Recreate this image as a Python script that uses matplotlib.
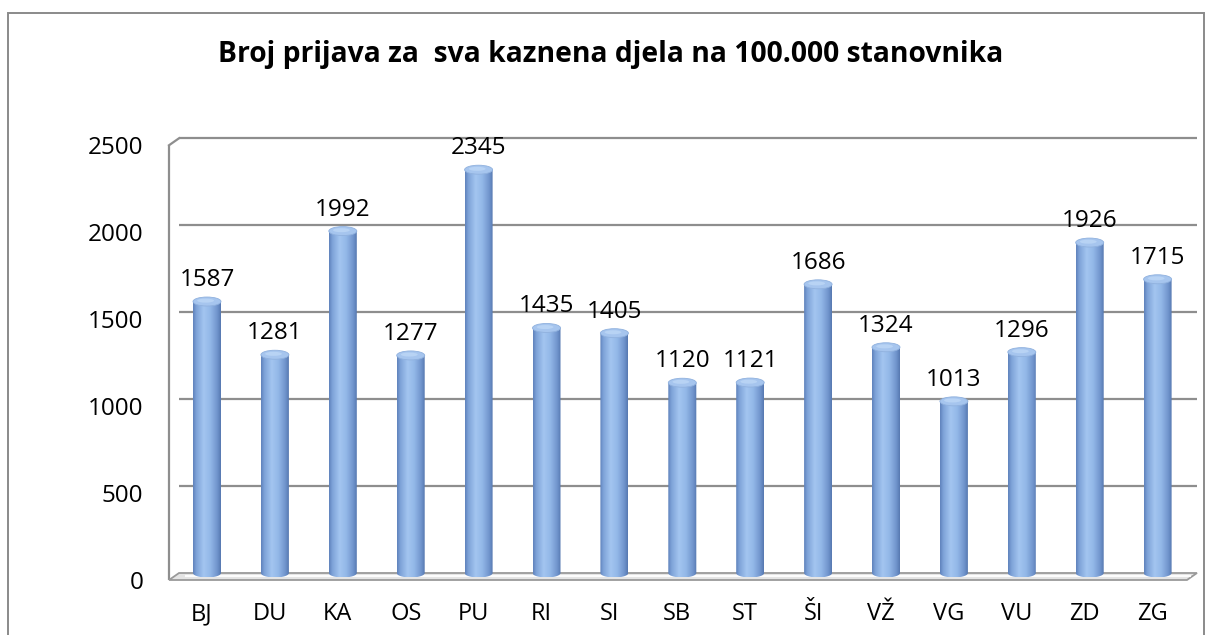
import numpy as np
import matplotlib
matplotlib.use("Agg")
import matplotlib.pyplot as plt
from matplotlib.patches import Ellipse, Polygon, PathPatch, Rectangle
from matplotlib.path import Path
from matplotlib.colors import LinearSegmentedColormap
from matplotlib.transforms import ScaledTranslation

plt.rcParams['font.family'] = ['Open Sans', 'DejaVu Sans']

# ---- data ----
categories = ["BJ", "DU", "KA", "OS", "PU", "RI", "SI", "SB", "ST", "ŠI", "VŽ", "VG", "VU", "ZD", "ZG"]
values = [1587, 1281, 1992, 1277, 2345, 1435, 1405, 1120, 1121, 1686, 1324, 1013, 1296, 1926, 1715]
yticks = [0, 500, 1000, 1500, 2000, 2500]
title = "Broj prijava za  sva kaznena djela na 100.000 stanovnika"

W, H, DPI = 12.06, 6.35, 100
fig = plt.figure(figsize=(W, H), dpi=DPI)
fig.patch.set_facecolor("white")

# axes geometry (pixels)
left_px, right_px, top_px, bot_px = 160, 1206, 100, 595
ax = fig.add_axes([left_px / 1206, (635 - bot_px) / 635,
                   (right_px - left_px) / 1206, (bot_px - top_px) / 635])
xpx0, xstep = 207.0, 67.9        # pixel of first category, spacing
ypx0, yscale = 573.0, 0.1739     # pixel of zero, px per unit
xlim = ((left_px - xpx0) / xstep, (right_px - xpx0) / xstep)
ylim = (-(bot_px - ypx0) / yscale, (ypx0 - top_px) / yscale)

# depth offsets (data units)
DX = 10 / xstep
DY = 7 / yscale
back_l, back_r = -0.412, 14.58

grid_c = "#8E8E8E"
# back wall gridlines
ax.hlines(yticks[1:], back_l, back_r, color=grid_c, lw=1.6, zorder=1)
# left wall edge
ax.plot([back_l - DX, back_l - DX], [-DY, yticks[-1] - DY], color=grid_c, lw=1.6, zorder=1,
        solid_capstyle='butt')
ax.plot([back_l - DX, back_l], [yticks[-1] - DY, yticks[-1]], color=grid_c, lw=1.6, zorder=1)

# floor
floor = Polygon([[back_l, 0], [back_r, 0], [back_r - DX, -DY], [back_l - DX, -DY]],
                closed=True, facecolor="#E4E4E4", edgecolor="#9A9A9A", lw=1.3, zorder=2)
ax.add_patch(floor)
ax.plot([back_l + 0.1, back_r - 0.1], [-DY * 0.45, -DY * 0.45], color="white", lw=1.5, zorder=2, alpha=0.9)

# cylinders
cmap = LinearSegmentedColormap.from_list(
    "cyl", [(0.0, "#5F82BC"), (0.12, "#7EA3D8"), (0.38, "#A3C5F0"),
            (0.62, "#93B8E8"), (0.88, "#6F93CB"), (1.0, "#5678B0")])
bw = 28 / xstep
eh = 9 / yscale
grad = np.linspace(0, 1, 128).reshape(1, -1)
for i, v in enumerate(values):
    top = v - eh / 2
    t = np.linspace(np.pi, 2 * np.pi, 40)
    verts = [(i - bw / 2, top), (i - bw / 2, 0)]
    verts += list(zip(i + bw / 2 * np.cos(t), 0 + eh / 2 * np.sin(t)))
    verts += [(i + bw / 2, top), (i - bw / 2, top)]
    codes = [Path.MOVETO] + [Path.LINETO] * (len(verts) - 2) + [Path.CLOSEPOLY]
    clip = PathPatch(Path(verts, codes), transform=ax.transData, facecolor="none", edgecolor="none")
    ax.add_patch(clip)
    im = ax.imshow(grad, cmap=cmap, extent=[i - bw / 2, i + bw / 2, -eh / 2, top],
                   aspect='auto', zorder=3, interpolation='bilinear')
    im.set_clip_path(clip)
    ax.add_patch(Ellipse((i, top), bw, eh, facecolor="#A6C5EE", edgecolor="#90B1DE",
                         lw=0.6, zorder=4))
    ax.add_patch(Ellipse((i - bw * 0.05, top + eh * 0.1), bw * 0.6, eh * 0.45,
                         facecolor="#B8D3F4", edgecolor="none", zorder=4))
    ax.annotate(str(v), xy=(i, v), xytext=(0, 11), textcoords='offset pixels',
                ha='center', va='baseline', fontsize=17.5, color='black', zorder=5)

ax.set_xlim(*xlim)
ax.set_ylim(*ylim)
ax.set_aspect('auto')
for s in ax.spines.values():
    s.set_visible(False)
ax.patch.set_visible(False)

ax.set_yticks(yticks)
ax.set_yticklabels([str(t) for t in yticks], fontsize=17.5)
ax.set_xticks(range(len(categories)))
ax.set_xticklabels(categories, fontsize=17)
ax.tick_params(axis='y', length=0, pad=12)
ax.tick_params(axis='x', length=0, pad=5)
off_y = ScaledTranslation(0, -7 / DPI, fig.dpi_scale_trans)
for lab in ax.get_yticklabels():
    lab.set_transform(lab.get_transform() + off_y)
off_x = ScaledTranslation(-5 / DPI, 0, fig.dpi_scale_trans)
for lab in ax.get_xticklabels():
    lab.set_transform(lab.get_transform() + off_x)

# title
fig.text(611 / 1206, 1 - 62 / 635, title, ha='center', va='baseline',
         fontsize=20.3, fontweight='bold')

# outer border
fig.patches.append(Rectangle((8 / 1206, -0.1), (1204 - 8) / 1206, 1 - 13 / 635 + 0.1,
                             transform=fig.transFigure, fill=False, edgecolor="#8A8A8A",
                             lw=1.4, zorder=0))

fig.savefig("out.png", dpi=DPI)
